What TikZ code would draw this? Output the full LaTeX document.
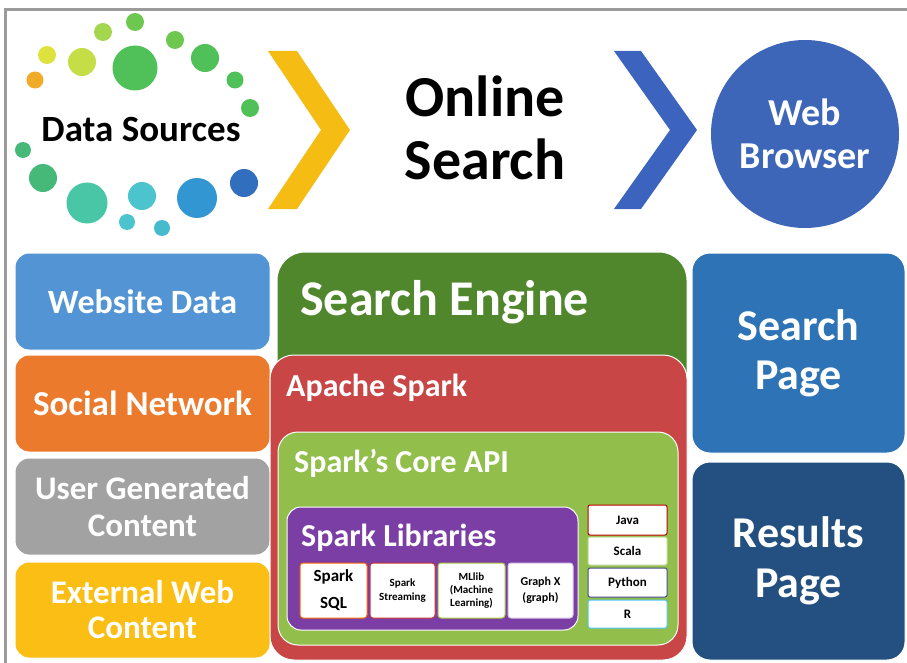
\documentclass[tikz,border=0pt]{standalone}
\usepackage{fontspec}
\setmainfont{Carlito}
\usepackage{tikz}
\usetikzlibrary{positioning}
\definecolor{framegray}{RGB}{155, 155, 155}
\definecolor{websiteblue}{RGB}{82, 148, 212}
\definecolor{socialorange}{RGB}{236, 122, 45}
\definecolor{usergray}{RGB}{162, 162, 162}
\definecolor{extyellow}{RGB}{250, 190, 20}
\definecolor{enginegreen}{RGB}{80, 135, 45}
\definecolor{sparkred}{RGB}{200, 70, 70}
\definecolor{coregreen}{RGB}{146, 190, 75}
\definecolor{libpurple}{RGB}{122, 62, 165}
\definecolor{searchblue}{RGB}{46, 115, 182}
\definecolor{resultsblue}{RGB}{35, 80, 128}
\definecolor{browserblue}{RGB}{62, 102, 184}
\definecolor{chevyellow}{RGB}{245, 188, 20}
\definecolor{chevblue}{RGB}{60, 100, 190}
% dot palette, orange through green to blue
\definecolor{dotorange}{RGB}{240, 172, 40}
\definecolor{dotyellow}{RGB}{222, 226, 60}
\definecolor{dotlime}{RGB}{198, 222, 70}
\definecolor{dotlight}{RGB}{165, 214, 80}
\definecolor{dotgreen}{RGB}{110, 200, 80}
\definecolor{dotmid}{RGB}{80, 192, 88}
\definecolor{dotsea}{RGB}{70, 185, 120}
\definecolor{dotteal}{RGB}{72, 198, 165}
\definecolor{dotcyan}{RGB}{75, 196, 205}
\definecolor{dotsky}{RGB}{50, 150, 210}
\definecolor{dotblue}{RGB}{50, 110, 190}

\tikzset{
  bigbox/.style={rounded corners=14pt, draw=white, line width=1pt, text=white,
    align=center, inner sep=0pt},
  tag/.style={anchor=west, text=white, inner sep=0pt},
  libbox/.style={fill=white, rounded corners=3pt, line width=1pt, text=black,
    align=center, inner sep=0pt, minimum height=55pt},
  langbox/.style={fill=white, rounded corners=2pt, line width=1pt, text=black,
    inner sep=0pt, minimum width=79pt, font=\bfseries\fontsize{13}{14}\selectfont}
}

\newcommand{\fs}[2]{\bfseries\fontsize{#1}{#2}\selectfont}

\begin{document}
\begin{tikzpicture}[x=1pt, y=-1pt]
        \useasboundingbox (0,0) rectangle (907,663);
        \fill[white] (0,0) rectangle (907,663);

        % Frame
        \draw[framegray, line width=3pt] (5,663) -- (5,10) -- (907,10);

        % Data source dots
        \fill[dotorange] (35,80) circle (8.5);
        \fill[dotyellow] (47,55) circle (9);
        \fill[dotlime] (82,62) circle (14);
        \fill[dotlight] (103,32) circle (9);
        \fill[dotgreen] (135,22) circle (9);
        \fill[dotmid] (135,68) circle (22.5);
        \fill[dotgreen] (175,40) circle (9);
        \fill[dotmid] (205,58) circle (14);
        \fill[dotmid] (235,80) circle (8.5);
        \fill[dotmid] (250,108) circle (9);
        \fill[dotsea] (23,150) circle (8);
        \fill[dotsea] (43,178) circle (14);
        \fill[dotteal] (87,203) circle (20.5);
        \fill[dotcyan] (142,196) circle (14);
        \fill[dotcyan] (127,222) circle (8);
        \fill[dotcyan!80!dotsky] (162,228) circle (8);
        \fill[dotsky] (197,198) circle (20);
        \fill[dotblue] (244,183) circle (14);
        \node[font=\fs{37}{40}] (sources) at (141,130) {Data Sources};

        % Chevrons
        \fill[chevyellow] (268,51) -- (297,51) -- (350,130) -- (297,209) -- (268,209) -- (321,130) -- cycle;
        \fill[chevblue] (614,51) -- (641,51) -- (697,130) -- (641,209) -- (614,209) -- (670,130) -- cycle;

        % Online search
        \node[align=center, font=\fs{58}{63}] (online) at (485,128) {Online\\Search};

        % Web browser
        \node[circle, fill=browserblue, minimum size=188pt, inner sep=0pt, text=white,
              align=center, font=\fs{38}{43}] (browser) at (805,134) {Web\\Browser};

        % Data feeds
        \node[bigbox, fill=websiteblue, minimum width=255pt, minimum height=97pt, font=\fs{34}{37}] (website) at (142.5,301.5) {Website Data};
        \node[bigbox, fill=socialorange, minimum width=255pt, minimum height=97pt, font=\fs{35}{37}] (social) at (142.5,403.5) {Social Network};
        \node[bigbox, fill=usergray, minimum width=255pt, minimum height=97pt, font=\fs{33}{37}] (usergen) at (142.5,506.5) {User Generated\\Content};
        \node[bigbox, fill=extyellow, minimum width=255pt, minimum height=96pt, font=\fs{33}{35}] (external) at (142.5,610) {External Web\\Content};

        % Search engine stack
        \node[bigbox, rounded corners=28pt, fill=enginegreen, minimum width=410pt, minimum height=148pt] (engine) at (482,326) {};
        \node[tag, font=\fs{50}{54}] (enginelabel) at (300,302) {Search Engine};
        \node[bigbox, rounded corners=24pt, fill=sparkred, minimum width=417pt, minimum height=305pt] (spark) at (478.5,507.5) {};
        \node[tag, font=\fs{32}{36}] (sparklabel) at (286,388) {Apache Spark};
        \node[bigbox, rounded corners=20pt, fill=coregreen, minimum width=400pt, minimum height=213pt] (core) at (478,538.5) {};
        \node[tag, font=\fs{32}{36}] (corelabel) at (294,463) {Spark’s Core API};
        \node[bigbox, rounded corners=14pt, fill=libpurple, minimum width=291pt, minimum height=123pt] (libs) at (432.5,568.5) {};
        \node[tag, font=\fs{32}{36}] (libslabel) at (301,538) {Spark Libraries};

        % Libraries
        \node[libbox, draw=orange!80!red, minimum width=67pt, font=\fs{17}{27}] (sql) at (333.5,590.5) {Spark\\SQL};
        \node[libbox, draw=red!75!black!80!white, minimum width=65pt, font=\fs{11}{14}] (streaming) at (402.5,590.5) {Spark\\Streaming};
        \node[libbox, draw=coregreen!80!yellow, minimum width=67pt, font=\fs{11}{13}] (mllib) at (471.5,590.5) {MLlib\\(Machine\\Learning)};
        \node[libbox, draw=libpurple!30!white, minimum width=65pt, font=\fs{12}{16}] (graphx) at (540.5,590.5) {Graph X\\(graph)};

        % Languages
        \node[langbox, draw=red!75!black, minimum height=30pt] (java) at (627.5,520) {Java};
        \node[langbox, draw=coregreen!60!white, minimum height=28pt] (scala) at (627.5,551) {Scala};
        \node[langbox, draw=black!60!blue!70!white, minimum height=29pt] (python) at (627.5,582.5) {Python};
        \node[langbox, draw=cyan!70!white, minimum height=28pt] (rlang) at (627.5,614) {R};

        % Pages
        \node[bigbox, rounded corners=18pt, fill=searchblue, minimum width=213pt, minimum height=200pt, font=\fs{44}{49}] (searchpage) at (798.5,353) {Search\\Page};
        \node[bigbox, rounded corners=18pt, fill=resultsblue, minimum width=213pt, minimum height=198pt, font=\fs{44}{50}] (resultspage) at (798.5,561) {Results\\Page};
    \end{tikzpicture}
\end{document}
